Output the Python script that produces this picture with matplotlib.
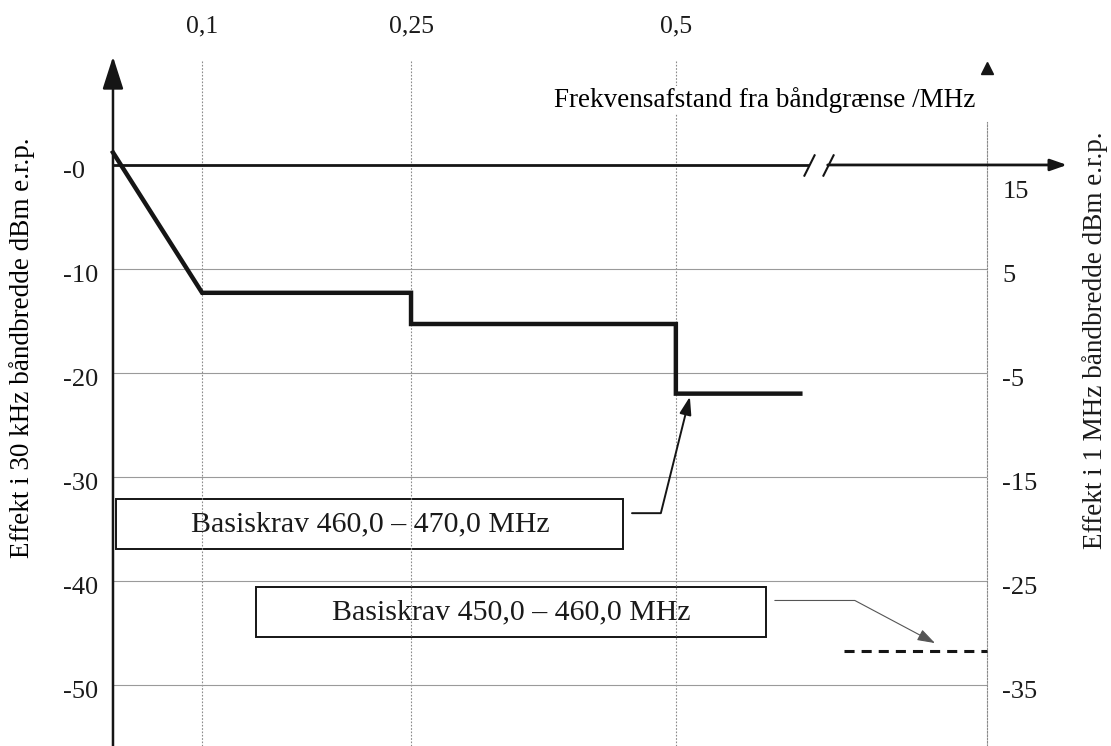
import numpy as np
import matplotlib
matplotlib.use("Agg")
import matplotlib.pyplot as plt
from matplotlib.patches import Rectangle
from matplotlib.transforms import ScaledTranslation

# limit line, 460-470 MHz (frequency offset in MHz, power in dBm / 30 kHz)
freq_460 = [0, 0.1, 0.25, 0.25, 0.5, 0.5, 0.7]
power_460 = [1.2, -12.3, -12.3, -15.3, -15.3, -22.0, -22.0]

# limit line, 450-460 MHz (after the axis break)
freq_450 = [0.77, 1.0]
power_450 = [-46.8, -46.8]

x_ticks = [0.1, 0.25, 0.5]
x_ticklabels = ["0,1", "0,25", "0,5"]
y_ticks = [0, -10, -20, -30, -40, -50]
y_ticklabels = ["-0", "-10", "-20", "-30", "-40", "-50"]
y2_ticks = [15, 5, -5, -15, -25, -35]
offset_1mhz = 15  # 30 kHz -> 1 MHz bandwidth

label_460 = "Basiskrav 460,0 \u2013 470,0 MHz"
label_450 = "Basiskrav 450,0 \u2013 460,0 MHz"

# the frequency axis in the drawing is schematic, not linear
knots = [-1, 0, 0.1, 0.25, 0.5, 1.0, 2.0]
knot_pos = [-1, 0, 0.102, 0.341, 0.644, 1.0, 1.712]


def fwd(x):
    return np.interp(x, knots, knot_pos)


def inv(p):
    return np.interp(p, knot_pos, knots)


plt.rcParams['font.family'] = ['Liberation Serif', 'DejaVu Serif']
plt.rcParams['text.color'] = '#1a1a1a'
plt.rcParams['axes.unicode_minus'] = False
ink = '#151515'

fig = plt.figure(figsize=(11.11, 7.46), dpi=100)
ax = fig.add_axes([0.1017, 0.0, 0.7867, 0.9196])
ax.set_xscale('function', functions=(fwd, inv))
ax.set_xlim(0, 1.0)
ax.set_ylim(-55.9, 10.1)

# grid
ax.set_xticks(x_ticks, x_ticklabels)
ax.xaxis.tick_top()
ax.tick_params(axis='x', length=0, pad=16, labelsize=18.5, labelcolor='#1a1a1a')
ax.grid(axis='x', color='#8a8a8a', lw=0.8, ls=(0, (1.5, 1.5)))
ax.hlines(y_ticks[1:], 0, 1, transform=ax.get_yaxis_transform(),
          color='#9a9a9a', lw=0.8)

ax.set_yticks(y_ticks, y_ticklabels)
ax.tick_params(axis='y', length=0, pad=36, labelsize=19, labelcolor='#1a1a1a')

for s in ['top', 'bottom', 'left']:
    ax.spines[s].set_visible(False)
ax.spines['right'].set_linestyle((0, (1.5, 1.5)))
ax.spines['right'].set_color('#8a8a8a')
ax.spines['right'].set_linewidth(0.8)
ax.spines['right'].set_bounds(-55.9, 4.1)

# right axis (1 MHz bandwidth)
sec = ax.secondary_yaxis('right', functions=(lambda y: y + offset_1mhz,
                                             lambda y: y - offset_1mhz))
sec.set_yticks(y2_ticks)
sec.tick_params(length=0, pad=11, labelsize=19, labelcolor='#1a1a1a')
sec.spines['right'].set_visible(False)

ax.set_ylabel("Effekt i 30 kHz båndbredde dBm e.r.p.", fontsize=19.5,
              ha='center', va='center')
ax.yaxis.set_label_coords(-0.104, 0.580)
ax.text(1.1236, 0.592, "Effekt i 1 MHz båndbredde dBm e.r.p.",
        transform=ax.transAxes, rotation=90, ha='center', va='center',
        fontsize=19.5)

ax.set_xlabel("Frekvensafstand fra båndgrænse /MHz", fontsize=19.5,
              ha='right', va='center',
              bbox=dict(fc='white', ec='none', pad=1))
ax.xaxis.set_label_coords(0.9863, 0.9417)

# axes with arrows
ax.annotate('', xy=(0, 1.005), xytext=(0, 0), xycoords='axes fraction',
            arrowprops=dict(arrowstyle='-|>,head_length=1.0,head_width=0.32',
                            lw=1.8, color=ink, mutation_scale=20,
                            shrinkA=0, shrinkB=0))
brk = [0.714, 0.744]
ax.plot([0, brk[0]], [0, 0], color=ink, lw=2, solid_capstyle='butt', zorder=3)
ax.annotate('', xy=(1.0915, 0), xycoords=ax.get_yaxis_transform(),
            xytext=(brk[1], 0), textcoords='data',
            arrowprops=dict(arrowstyle='-|>,head_length=1.0,head_width=0.35',
                            lw=2, color=ink, mutation_scale=10,
                            shrinkA=0, shrinkB=0))
ax.plot(brk, [0, 0], ls='none', marker=[(-1, -2), (1, 2)], ms=16, mew=1.5,
        color=ink, clip_on=False, zorder=3)
ax.plot(1.0, 0.988, marker='^', ms=9, color=ink, transform=ax.transAxes,
        clip_on=False)

# limit lines
ax.plot(freq_460, power_460, color=ink, lw=3.2, solid_joinstyle='miter',
        clip_on=False, zorder=4)
ax.plot(freq_450, power_450, color=ink, lw=2.2, ls=(0, (3.3, 2.3)),
        clip_on=False, zorder=4)

# label boxes
ax.add_patch(Rectangle((0.0034, 0.2872), 0.580, 0.0729, transform=ax.transAxes,
                       fill=False, lw=1.4, ec=ink, clip_on=False))
ax.text(0.294, 0.3236, label_460, transform=ax.transAxes, ha='center',
        va='center', fontsize=21.5)
ax.add_patch(Rectangle((0.1636, 0.1589), 0.5835, 0.0729, transform=ax.transAxes,
                       fill=False, lw=1.4, ec=ink, clip_on=False))
ax.text(0.4554, 0.1953, label_450, transform=ax.transAxes, ha='center',
        va='center', fontsize=21.5)

ax.annotate('', xy=(0.5225, -22.3), xytext=(0.4586, -33.5),
            arrowprops=dict(arrowstyle='-|>,head_length=0.9,head_width=0.3',
                            connectionstyle='angle,angleA=0,angleB=76,rad=0',
                            color=ink, lw=1.4, shrinkA=0, shrinkB=0,
                            mutation_scale=12))
ax.annotate('', xy=(0.9164, -46.0), xytext=(0.659, -41.9),
            arrowprops=dict(arrowstyle='-|>,head_length=0.9,head_width=0.3',
                            connectionstyle='angle,angleA=0,angleB=-28,rad=0',
                            color='#555555', lw=0.8, shrinkA=0, shrinkB=0,
                            mutation_scale=12))

# nudge tick labels like in the drawing
fig.canvas.draw()
down = ScaledTranslation(0, -0.05, fig.dpi_scale_trans)
for lab in ax.get_yticklabels():
    lab.set_horizontalalignment('left')
    lab.set_transform(lab.get_transform() + down)
for lab in sec.get_yticklabels():
    lab.set_horizontalalignment('left')
    if lab.get_text() == '15':
        lab.set_transform(lab.get_transform() + ScaledTranslation(0, -0.25, fig.dpi_scale_trans))
    else:
        lab.set_transform(lab.get_transform() + down)

fig.savefig("out.png", dpi=100)
